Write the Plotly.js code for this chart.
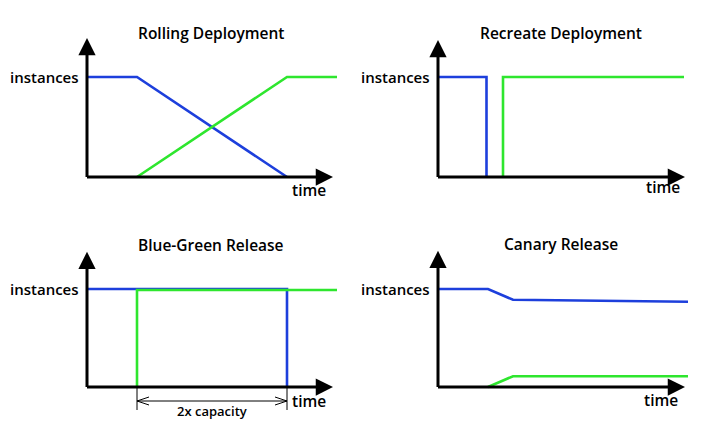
<!DOCTYPE html>
<html>
<head>
<meta charset="utf-8">
<script src="https://cdn.plot.ly/plotly-3.0.1.min.js"></script>
<style>html,body{margin:0;padding:0;background:#fff;}#chart{width:723px;height:435px;}</style>
</head>
<body>
<div id="chart"></div>
<script>
// ---- Data ----
const panelTitles = ["Rolling Deployment", "Recreate Deployment", "Blue-Green Release", "Canary Release"];
const yLabel = "instances";
const xLabel = "time";
const capacityLabel = "2x capacity";

// Rolling Deployment
const rollingOldX = [0, 1, 4];
const rollingOldY = [1, 1, 0];
const rollingNewX = [1, 4, 5];
const rollingNewY = [0, 1, 1];

// Recreate Deployment
const recreateOldX = [0, 0.97, 0.97];
const recreateOldY = [1, 1, 0];
const recreateNewX = [1.3, 1.3, 4.92];
const recreateNewY = [0, 1, 1];

// Blue-Green Release
const blueGreenOldX = [0, 4, 4];
const blueGreenOldY = [1, 1, 0];
const blueGreenNewX = [1, 1, 5];
const blueGreenNewY = [0, 0.99, 0.99];
const capacitySpan = [1, 4];

// Canary Release
const canaryOldX = [0, 1, 1.5, 5];
const canaryOldY = [1, 1, 0.89, 0.87];
const canaryNewX = [1, 1.5, 5];
const canaryNewY = [0, 0.11, 0.11];

// ---- Styling / layout ----
const W = 723, H = 435;
const BLUE = '#1d3fdc', GREEN = '#2ee62e';
const FONT = 'Open Sans, Liberation Sans, sans-serif';

// panel geometry in pixels
const panels = [
  {dom: [0, 361, 0, 217], origin: [87, 177], sx: 50, sy: 100, xTip: 4.92, yTip: 1.39, title: [211, 33], time: [290, 190]},
  {dom: [361, 723, 0, 217], origin: [438, 177], sx: 50, sy: 100, xTip: 4.94, yTip: 1.37, title: [561, 33], time: [644, 187]},
  {dom: [0, 361, 217, 435], origin: [87, 387], sx: 50, sy: 98, xTip: 4.92, yTip: 1.38, title: [211, 245], time: [290, 401]},
  {dom: [361, 723, 217, 435], origin: [438, 387], sx: 50, sy: 98, xTip: 4.94, yTip: 1.39, title: [561, 244], time: [642, 400]}
];

const series = [
  [[rollingOldX, rollingOldY, BLUE], [rollingNewX, rollingNewY, GREEN]],
  [[recreateOldX, recreateOldY, BLUE], [recreateNewX, recreateNewY, GREEN]],
  [[blueGreenOldX, blueGreenOldY, BLUE], [blueGreenNewX, blueGreenNewY, GREEN]],
  [[canaryOldX, canaryOldY, BLUE], [canaryNewX, canaryNewY, GREEN]]
];

const traces = [];
const layout = {
  width: W, height: H,
  margin: {l: 0, r: 0, t: 0, b: 0},
  paper_bgcolor: '#fff', plot_bgcolor: '#fff',
  showlegend: false,
  font: {family: FONT, color: '#000'},
  annotations: [], shapes: []
};

panels.forEach((p, i) => {
  const n = i + 1;
  const xa = 'xaxis' + (n === 1 ? '' : n), ya = 'yaxis' + (n === 1 ? '' : n);
  const xr = 'x' + (n === 1 ? '' : n), yr = 'y' + (n === 1 ? '' : n);
  const [dx0, dx1, dy0, dy1] = p.dom;
  const [ox, oy] = p.origin;
  const axisBase = {visible: false, showgrid: false, zeroline: false, fixedrange: true};
  layout[xa] = Object.assign({}, axisBase, {
    domain: [dx0 / W, dx1 / W],
    range: [(dx0 - ox) / p.sx, (dx1 - ox) / p.sx],
    anchor: yr
  });
  layout[ya] = Object.assign({}, axisBase, {
    domain: [1 - dy1 / H, 1 - dy0 / H],
    range: [(oy - dy1) / p.sy, (oy - dy0) / p.sy],
    anchor: xr
  });

  // data lines
  series[i].forEach(([xs, ys, c]) => {
    traces.push({type: 'scatter', mode: 'lines', x: xs, y: ys, xaxis: xr, yaxis: yr,
      line: {color: c, width: 2.6}, hoverinfo: 'skip', cliponaxis: false});
  });

  // axis arrows
  const arrowBase = {xref: xr, yref: yr, axref: xr, ayref: yr, text: '', showarrow: true,
    arrowhead: 2, arrowsize: 1.15, arrowwidth: 3, arrowcolor: '#000', standoff: 0, startstandoff: 0};
  layout.annotations.push(Object.assign({}, arrowBase, {x: p.xTip, y: 0, ax: -0.03, ay: 0}));
  layout.annotations.push(Object.assign({}, arrowBase, {x: 0, y: p.yTip, ax: 0, ay: -0.015}));

  // labels
  layout.annotations.push({xref: xr, yref: yr, x: 0, y: 1, text: yLabel, showarrow: false,
    xanchor: 'right', yanchor: 'middle', xshift: -6,
    font: {family: FONT, size: 15, weight: 600, color: '#000'}});
  layout.annotations.push({xref: 'paper', yref: 'paper', x: p.time[0] / W, y: 1 - p.time[1] / H,
    text: xLabel, showarrow: false, xanchor: 'left', yanchor: 'middle',
    font: {family: FONT, size: 15.5, weight: 600, color: '#000'}});
  layout.annotations.push({xref: 'paper', yref: 'paper', x: p.title[0] / W, y: 1 - p.title[1] / H,
    text: panelTitles[i], showarrow: false, xanchor: 'center', yanchor: 'middle',
    font: {family: FONT, size: 15.5, weight: 600, color: '#000'}});
});

// Blue-green "2x capacity" dimension marker
(function () {
  const xr = 'x3', yr = 'y3';
  const p = panels[2];
  const [a, b] = capacitySpan;
  const yTickEnd = -23 / p.sy, yLine = -14 / p.sy;
  const cw = 12 / p.sx, ch = 4 / p.sy;
  const lineStyle = {color: '#000', width: 1};
  [a, b].forEach(v => layout.shapes.push({type: 'line', xref: xr, yref: yr, x0: v, x1: v, y0: 0, y1: yTickEnd, line: lineStyle}));
  layout.shapes.push({type: 'line', xref: xr, yref: yr, x0: a, x1: b, y0: yLine, y1: yLine, line: lineStyle});
  layout.shapes.push({type: 'path', xref: xr, yref: yr, line: lineStyle,
    path: `M ${a + cw} ${yLine + ch} L ${a} ${yLine} L ${a + cw} ${yLine - ch}`});
  layout.shapes.push({type: 'path', xref: xr, yref: yr, line: lineStyle,
    path: `M ${b - cw} ${yLine + ch} L ${b} ${yLine} L ${b - cw} ${yLine - ch}`});
  layout.annotations.push({xref: xr, yref: yr, x: (a + b) / 2, y: -24 / p.sy, text: capacityLabel,
    showarrow: false, xanchor: 'center', yanchor: 'middle',
    font: {family: FONT, size: 13, weight: 600, color: '#000'}});
})();

Plotly.newPlot('chart', traces, layout, {displayModeBar: false, staticPlot: true});
</script>
</body>
</html>
